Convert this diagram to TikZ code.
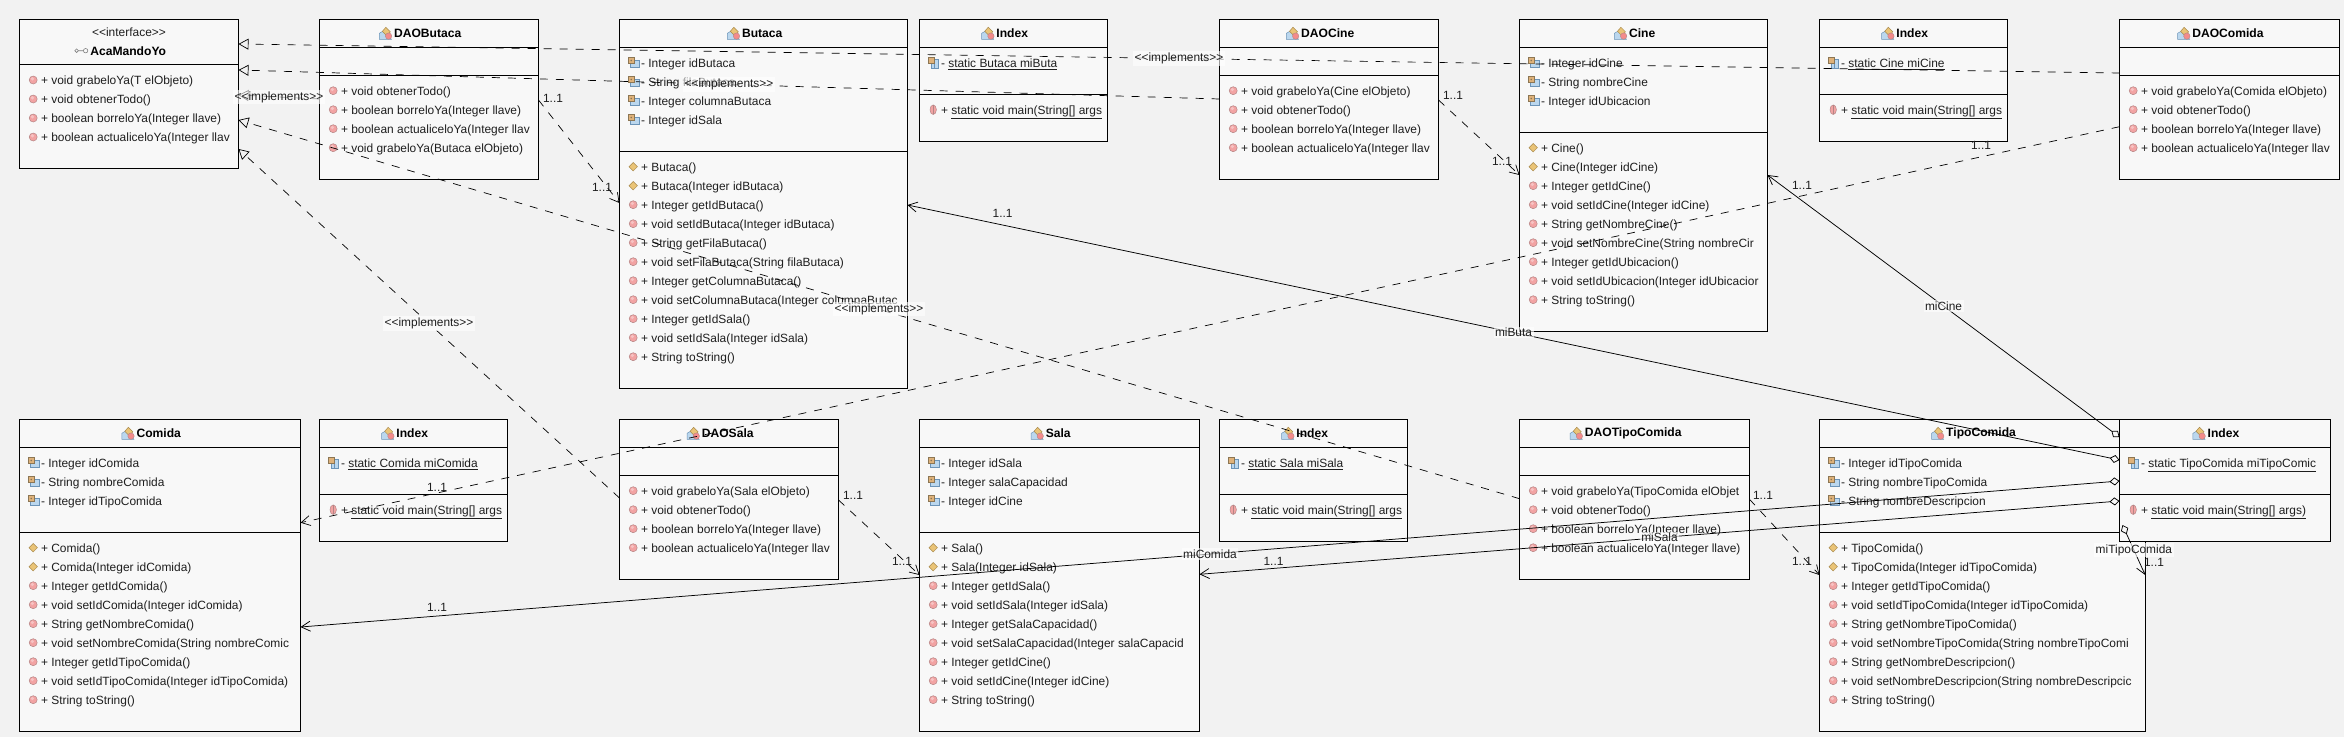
\documentclass[tikz,border=0pt]{standalone}
\usepackage{fontspec}
\setmainfont{Liberation Sans}
\usetikzlibrary{arrows.meta}
\definecolor{bgcol}{HTML}{F2F2F2}
\definecolor{boxcol}{HTML}{F8F8F8}
\definecolor{inkcol}{HTML}{1E1E1E}
\definecolor{methodfill}{HTML}{F2A3A3}
\definecolor{methodline}{HTML}{B58585}
\definecolor{ctorfill}{HTML}{EAC477}
\definecolor{ctorline}{HTML}{A98A4C}
\definecolor{lockfill}{HTML}{DFB27A}
\definecolor{lockline}{HTML}{8C7654}
\definecolor{docfill}{HTML}{BBD7EE}
\definecolor{docline}{HTML}{6C94B8}
\tikzset{
	umlbox/.style={draw=black, fill=boxcol, line width=0.9pt, rectangle, anchor=north west, inner sep=0pt, outer sep=0pt},
	umlsep/.style={line width=0.9pt},
	umltitle/.style={font=\fontsize{12.1}{14}\selectfont\bfseries, text=black, inner sep=0pt},
	umlrow/.style={font=\fontsize{11.95}{14}\selectfont, text=inkcol, anchor=west, inner sep=0pt, text height=12pt, text depth=3pt},
	edgelbl/.style={font=\fontsize{11.9}{14}\selectfont, text=inkcol, fill=white, fill opacity=0.6, text opacity=1, inner sep=1.5pt},
	mult/.style={font=\fontsize{11.9}{14}\selectfont, text=inkcol, inner sep=0pt},
	impl/.style={dashed, dash pattern=on 8pt off 8pt, line width=0.7pt, -{Triangle[open, length=10pt, width=11pt]}},
	dep/.style={dashed, dash pattern=on 8pt off 8pt, line width=0.7pt, -{Straight Barb[length=9pt, width=10pt]}},
	assoc/.style={line width=0.75pt, {Diamond[open, length=10pt, width=8pt]}-{Straight Barb[length=9pt, width=10pt]}},
	methodicon/.pic={\fill[fill=methodfill, draw=methodline, line width=0.5pt] (0,0) circle (4pt);
		\fill[white, opacity=0.35] (-0.8,-1.2) circle (1.8pt);},
	ctoricon/.pic={\fill[fill=ctorfill, draw=ctorline, line width=0.5pt] (-4.2,0)--(0,-4.2)--(4.2,0)--(0,4.2)--cycle;},
	staticicon/.pic={\fill[fill=methodfill, draw=methodline, line width=0.5pt] (0,0) ellipse (3.2pt and 4.8pt);
		\draw[methodline, line width=0.3pt] (0,-4.6)--(0,4.6);},
	fieldicon/.pic={\fill[fill=docfill, draw=docline, line width=0.5pt] (-3,-2) rectangle (6,5);
		\fill[fill=lockfill, draw=lockline, line width=0.5pt] (-4.8,-5) rectangle (0.8,0.6);
		\fill[lockline] (-2,-2.2) circle (0.9pt);},
	sfieldicon/.pic={\fill[fill=docfill, draw=docline, line width=0.5pt] (-2,-3) rectangle (2,5.5);
		\fill[fill=docfill, draw=docline, line width=0.5pt] (1,-3) rectangle (5,5.5);
		\fill[fill=lockfill, draw=lockline, line width=0.5pt] (-4.8,-5.5) rectangle (0.8,0.8);},
	classicon/.pic={\fill[fill=docfill, draw=docline, line width=0.5pt] (-6,6)--(-6,0)--(-1,-3)--(6,6)--cycle;
		\fill[fill=ctorfill, draw=ctorline, line width=0.5pt] (-3,-2)--(0.5,-6)--(5,-1.5)--(1.5,2.5)--cycle;
		\fill[fill=methodfill!85!red, draw=methodline, line width=0.4pt] (3.2,2.8) circle (3.2pt);},
	ifaceicon/.pic={\draw[gray, line width=0.6pt] (-5,0) circle (1.8pt) (4,0) circle (2.2pt) (-3.2,0)--(1.8,0);}
}
\newcommand{\umlclass}[7]{
	\node[umlbox, minimum width=#4pt, minimum height=#5pt] (#1) at (#2,#3) {};
	\foreach \sepy in {#7}
		\draw[umlsep] ([yshift=-\sepy pt]#1.north west)--([yshift=-\sepy pt]#1.north east);
	\node[umltitle] (#1-title) at ([xshift=-1.3pt,yshift=-14pt]#1.north) {#6};
	\pic at ([xshift=-8.5pt]#1-title.west) {classicon};
}
\newcommand{\umlrows}[4]{
	\foreach \rowtext [count=\i from 0] in {#4}{
		\node[umlrow] (#1-#3-\i) at ([xshift=21.3pt,yshift=-#2pt-19*\i pt]#1.north west) {\rowtext};
		\pic at ([xshift=-7.6pt]#1-#3-\i.west) {#3};
	}
}
\newcommand{\implname}{<{}<implements>{}>}

\begin{document}
\begin{tikzpicture}[x=1pt, y=-1pt]
	\path[use as bounding box, fill=bgcol] (0,0) rectangle (2344,737);

	% interface
	\node[umlbox, minimum width=219pt, minimum height=149pt] (acaMandoYo) at (19.5,19.3) {};
	\draw[umlsep] ([yshift=-45pt]acaMandoYo.north west)--([yshift=-45pt]acaMandoYo.north east);
	\node[umlrow, anchor=center, text height=9pt] (acaStereo) at ([yshift=-14pt]acaMandoYo.north) {<{}<interface>{}>};
	\node[umltitle] (acaTitle) at ([xshift=-0.8pt,yshift=-31.4pt]acaMandoYo.north) {AcaMandoYo};
	\pic at ([xshift=-8.5pt]acaTitle.west) {ifaceicon};
	\umlrows{acaMandoYo}{60.7}{methodicon}{+ void grabeloYa(T elObjeto), + void obtenerTodo(), + boolean borreloYa(Integer llave), + boolean actualiceloYa(Integer llav}

	% top row
	\umlclass{daoButaca}{319.5}{19.3}{219}{160}{DAOButaca}{28,56}
	\umlrows{daoButaca}{71.4}{methodicon}{+ void obtenerTodo(), + boolean borreloYa(Integer llave), + boolean actualiceloYa(Integer llav, + void grabeloYa(Butaca elObjeto)}

	\umlclass{butaca}{619.5}{19.3}{288}{369}{Butaca}{28,132}
	\umlrows{butaca}{43.4}{fieldicon}{- Integer idButaca, - String filaButaca, - Integer columnaButaca, - Integer idSala}
	\umlrows{butaca}{147.4}{ctoricon}{+ Butaca(), + Butaca(Integer idButaca)}
	\umlrows{butaca}{185.4}{methodicon}{+ Integer getIdButaca(), + void setIdButaca(Integer idButaca), + String getFilaButaca(), + void setFilaButaca(String filaButaca), + Integer getColumnaButaca(), + void setColumnaButaca(Integer columnaButac, + Integer getIdSala(), + void setIdSala(Integer idSala), + String toString()}

	\umlclass{indexButaca}{919.5}{19.3}{188}{122}{Index}{28,75}
	\umlrows{indexButaca}{43.4}{sfieldicon}{- \underline{static Butaca miButa}}
	\umlrows{indexButaca}{90.4}{staticicon}{+ \underline{static void main(String[] args}}

	\umlclass{daoCine}{1219.5}{19.3}{219}{160}{DAOCine}{28,56}
	\umlrows{daoCine}{71.4}{methodicon}{+ void grabeloYa(Cine elObjeto), + void obtenerTodo(), + boolean borreloYa(Integer llave), + boolean actualiceloYa(Integer llav}

	\umlclass{cine}{1519.5}{19.3}{248}{312}{Cine}{28,113}
	\umlrows{cine}{43.4}{fieldicon}{- Integer idCine, - String nombreCine, - Integer idUbicacion}
	\umlrows{cine}{128.4}{ctoricon}{+ Cine(), + Cine(Integer idCine)}
	\umlrows{cine}{166.4}{methodicon}{+ Integer getIdCine(), + void setIdCine(Integer idCine), + String getNombreCine(), + void setNombreCine(String nombreCir, + Integer getIdUbicacion(), + void setIdUbicacion(Integer idUbicacior, + String toString()}

	\umlclass{indexCine}{1819.5}{19.3}{188}{122}{Index}{28,75}
	\umlrows{indexCine}{43.4}{sfieldicon}{- \underline{static Cine miCine}}
	\umlrows{indexCine}{90.4}{staticicon}{+ \underline{static void main(String[] args}}

	\umlclass{daoComida}{2119.5}{19.3}{219.5}{160}{DAOComida}{28,56}
	\umlrows{daoComida}{71.4}{methodicon}{+ void grabeloYa(Comida elObjeto), + void obtenerTodo(), + boolean borreloYa(Integer llave), + boolean actualiceloYa(Integer llav}

	% bottom row
	\umlclass{comida}{19.5}{419.3}{281}{312}{Comida}{28,113}
	\umlrows{comida}{43.4}{fieldicon}{- Integer idComida, - String nombreComida, - Integer idTipoComida}
	\umlrows{comida}{128.4}{ctoricon}{+ Comida(), + Comida(Integer idComida)}
	\umlrows{comida}{166.4}{methodicon}{+ Integer getIdComida(), + void setIdComida(Integer idComida), + String getNombreComida(), + void setNombreComida(String nombreComic, + Integer getIdTipoComida(), + void setIdTipoComida(Integer idTipoComida), + String toString()}

	\umlclass{indexComida}{319.5}{419.3}{188}{122}{Index}{28,75}
	\umlrows{indexComida}{43.4}{sfieldicon}{- \underline{static Comida miComida}}
	\umlrows{indexComida}{90.4}{staticicon}{+ \underline{static void main(String[] args}}

	\umlclass{daoSala}{619.5}{419.3}{219}{160}{DAOSala}{28,56}
	\umlrows{daoSala}{71.4}{methodicon}{+ void grabeloYa(Sala elObjeto), + void obtenerTodo(), + boolean borreloYa(Integer llave), + boolean actualiceloYa(Integer llav}

	\umlclass{sala}{919.5}{419.3}{280}{312}{Sala}{28,113}
	\umlrows{sala}{43.4}{fieldicon}{- Integer idSala, - Integer salaCapacidad, - Integer idCine}
	\umlrows{sala}{128.4}{ctoricon}{+ Sala(), + Sala(Integer idSala)}
	\umlrows{sala}{166.4}{methodicon}{+ Integer getIdSala(), + void setIdSala(Integer idSala), + Integer getSalaCapacidad(), + void setSalaCapacidad(Integer salaCapacid, + Integer getIdCine(), + void setIdCine(Integer idCine), + String toString()}

	\umlclass{indexSala}{1219.5}{419.3}{188}{122}{Index}{28,75}
	\umlrows{indexSala}{43.4}{sfieldicon}{- \underline{static Sala miSala}}
	\umlrows{indexSala}{90.4}{staticicon}{+ \underline{static void main(String[] args}}

	\umlclass{daoTipoComida}{1519.5}{419.3}{230}{160}{DAOTipoComida}{28,56}
	\umlrows{daoTipoComida}{71.4}{methodicon}{+ void grabeloYa(TipoComida elObjet, + void obtenerTodo(), + boolean borreloYa(Integer llave), + boolean actualiceloYa(Integer llave)}

	\umlclass{tipoComida}{1819.5}{419.3}{325.7}{312}{TipoComida}{28,113}
	\umlrows{tipoComida}{43.4}{fieldicon}{- Integer idTipoComida, - String nombreTipoComida, - String nombreDescripcion}
	\umlrows{tipoComida}{128.4}{ctoricon}{+ TipoComida(), + TipoComida(Integer idTipoComida)}
	\umlrows{tipoComida}{166.4}{methodicon}{+ Integer getIdTipoComida(), + void setIdTipoComida(Integer idTipoComida), + String getNombreTipoComida(), + void setNombreTipoComida(String nombreTipoComi, + String getNombreDescripcion(), + void setNombreDescripcion(String nombreDescripcic, + String toString()}

	\umlclass{indexTipoComida}{2119.5}{419.3}{210.5}{122}{Index}{28,75}
	\umlrows{indexTipoComida}{43.4}{sfieldicon}{- \underline{static TipoComida miTipoComic}}
	\umlrows{indexTipoComida}{90.4}{staticicon}{+ \underline{static void main(String[] args)}}

	% realizations
	\draw[impl] ([yshift=-53.7pt]daoComida.north west)--node[edgelbl] (implComida) {\implname} ([yshift=-24.7pt]acaMandoYo.north east);
	\draw[impl] ([yshift=-79.7pt]daoCine.north west)--node[edgelbl] (implCine) {\implname} ([yshift=-50.7pt]acaMandoYo.north east);
	\draw[impl] ([yshift=-79.7pt]daoButaca.north west)--node[edgelbl] (implButaca) {\implname} ([yshift=-75.7pt]acaMandoYo.north east);
	\draw[impl] ([yshift=-79.4pt]daoTipoComida.north west)--node[edgelbl] (implTipoComida) {\implname} ([yshift=-100.7pt]acaMandoYo.north east);
	\draw[impl] ([yshift=-78.7pt]daoSala.north west)--node[edgelbl] (implSala) {\implname} ([yshift=-129.7pt]acaMandoYo.north east);

	% dao to entity
	\draw[dep] ([yshift=-80.7pt]daoButaca.north east)--([yshift=-183.7pt]butaca.north west);
	\draw[dep] ([yshift=-80.7pt]daoCine.north east)--([yshift=-155.7pt]cine.north west);
	\draw[dep] ([yshift=-107.4pt]daoComida.north west)--([yshift=-103.4pt]comida.north east);
	\draw[dep] ([yshift=-80.7pt]daoSala.north east)--([yshift=-155.7pt]sala.north west);
	\draw[dep] ([yshift=-80pt]daoTipoComida.north east)--([yshift=-155.7pt]tipoComida.north west);

	% index to entity
	\draw[assoc] ([yshift=-17.7pt]indexTipoComida.north west)--node[edgelbl] (lblCine) {miCine} ([yshift=-155.7pt]cine.north east);
	\draw[assoc] ([yshift=-40.7pt]indexTipoComida.north west)--node[edgelbl] (lblButaca) {miButa} ([yshift=-185.7pt]butaca.north east);
	\draw[assoc] ([yshift=-61.7pt]indexTipoComida.north west)--node[edgelbl] (lblComida) {miComida} ([yshift=-207.7pt]comida.north east);
	\draw[assoc] ([yshift=-81.7pt]indexTipoComida.north west)--node[edgelbl] (lblSala) {miSala} ([yshift=-155pt]sala.north east);
	\draw[assoc] ([xshift=3pt,yshift=-105.7pt]indexTipoComida.north west)--node[edgelbl] (lblTipoComida) {miTipoComida} ([yshift=-155.7pt]tipoComida.north east);

	% multiplicities
	\node[mult] (m1) at (553,98) {1..1};
	\node[mult] (m2) at (602,187) {1..1};
	\node[mult] (m3) at (1002.6,213.7) {1..1};
	\node[mult] (m4) at (1453,95) {1..1};
	\node[mult] (m5) at (1502,161) {1..1};
	\node[mult] (m6) at (1802,185) {1..1};
	\node[mult] (m7) at (1981,145) {1..1};
	\node[mult] (m8) at (437,487) {1..1};
	\node[mult] (m9) at (437,607.7) {1..1};
	\node[mult] (m10) at (853,495) {1..1};
	\node[mult] (m11) at (902,561) {1..1};
	\node[mult] (m12) at (1273.5,561) {1..1};
	\node[mult] (m13) at (1763,495.7) {1..1};
	\node[mult] (m14) at (1802,561) {1..1};
	\node[mult] (m15) at (2154,562) {1..1};
\end{tikzpicture}
\end{document}
